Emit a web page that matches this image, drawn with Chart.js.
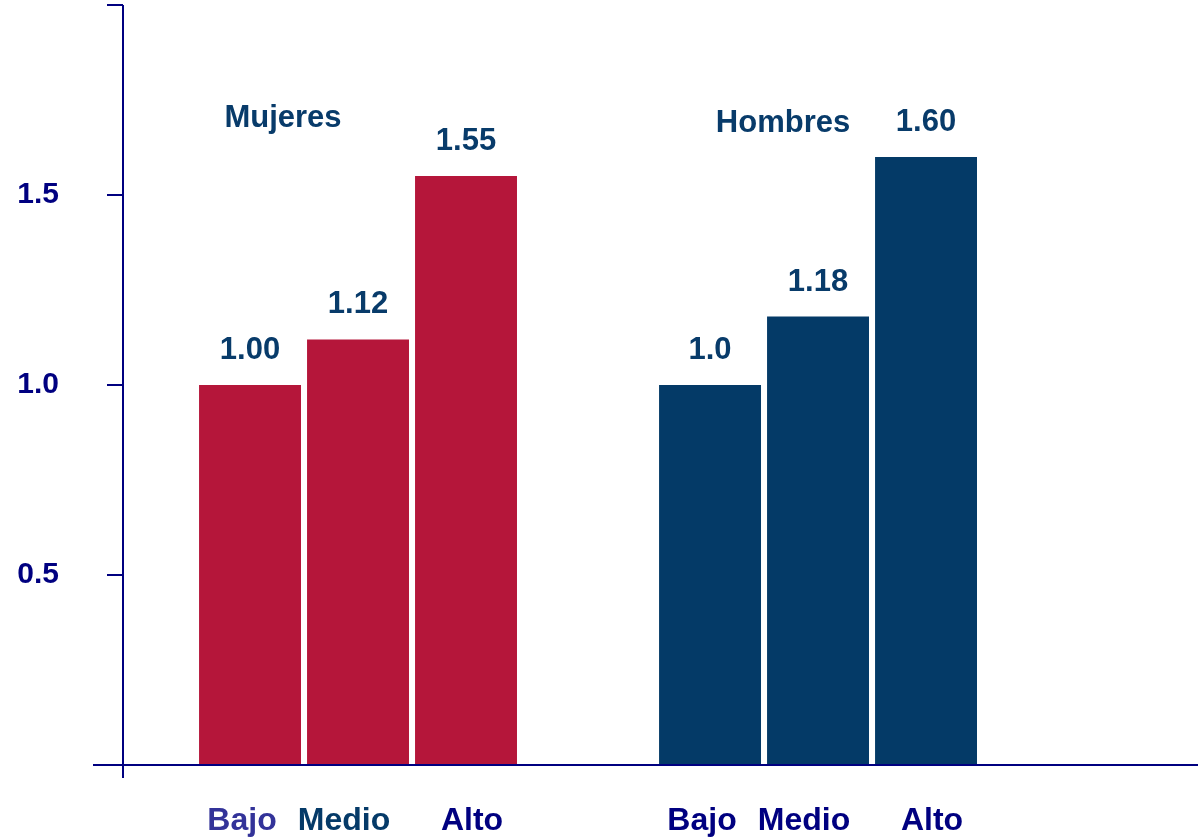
<!DOCTYPE html>
<html lang="es">
<head>
<meta charset="utf-8">
<title>Mujeres y Hombres: Bajo, Medio, Alto</title>
<script src="https://cdn.jsdelivr.net/npm/chart.js@4/dist/chart.umd.min.js"></script>
<style>
  html, body { margin: 0; padding: 0; background: #ffffff; }
  canvas { display: block; }
</style>
</head>
<body>
<canvas id="grafico" width="1198" height="838"></canvas>
<script>
// Datos
const grupos = ['Mujeres', 'Hombres'];
const niveles = ['Bajo', 'Medio', 'Alto'];
const etiquetasMujeres = ['1.00', '1.12', '1.55'];
const etiquetasHombres = ['1.0', '1.18', '1.60'];
const valoresMujeres = etiquetasMujeres.map(parseFloat);
const valoresHombres = etiquetasHombres.map(parseFloat);
const ticksY = [0, 0.5, 1.0, 1.5, 2.0];

// Colores
const rojo = '#b5163a';
const azul = '#043a67';
const azulTexto = '#083b6a';
const marino = '#000080';
const coloresNivel = [
  ['#333399', '#053a68', '#000080'], // Mujeres
  ['#000080', '#000080', '#000080']  // Hombres
];
const fuente = "'Liberation Sans', Arial, sans-serif";
// desplazamiento horizontal de los rótulos de nivel respecto a su barra
const despNivel = [-8, -14, 6];

const datasets = niveles.map((nivel, j) => ({
  label: nivel,
  data: [
    { x: 0, y: valoresMujeres[j] },
    { x: 1, y: valoresHombres[j] }
  ],
  backgroundColor: [rojo, azul],
  borderWidth: 0,
  categoryPercentage: 0.7043,
  barPercentage: 0.944
}));

const etiquetas = [etiquetasMujeres, etiquetasHombres];

// Ejes, cifras sobre las barras y rótulos
const rotulos = {
  id: 'rotulos',
  afterDatasetsDraw(chart) {
    const ctx = chart.ctx;
    const area = chart.chartArea;
    const sx = chart.scales.x;
    const sy = chart.scales.y;
    const y0 = sy.getPixelForValue(0);

    ctx.save();
    // ejes
    ctx.strokeStyle = marino;
    ctx.lineWidth = 2;
    ctx.beginPath();
    ctx.moveTo(area.left - 30, y0);
    ctx.lineTo(chart.width, y0);
    ctx.moveTo(area.left, area.top);
    ctx.lineTo(area.left, y0 + 13);
    ctx.stroke();

    ctx.textAlign = 'center';
    ctx.textBaseline = 'alphabetic';

    chart.data.datasets.forEach((ds, j) => {
      const meta = chart.getDatasetMeta(j);
      meta.data.forEach((barra, g) => {
        // valor encima de la barra
        ctx.font = 'bold 31px ' + fuente;
        ctx.fillStyle = azulTexto;
        ctx.fillText(etiquetas[g][j], barra.x, barra.y - 26);
        // nivel debajo del eje
        ctx.font = 'bold 32px ' + fuente;
        ctx.fillStyle = coloresNivel[g][j];
        ctx.fillText(niveles[j], barra.x + despNivel[j], 830);
      });
    });

    // nombre de cada grupo
    ctx.font = 'bold 31px ' + fuente;
    ctx.fillStyle = azulTexto;
    ctx.fillText(grupos[0], sx.getPixelForValue(0) - 75, 127);
    ctx.fillText(grupos[1], sx.getPixelForValue(1) - 35, 132);
    ctx.restore();
  }
};

new Chart(document.getElementById('grafico'), {
  type: 'bar',
  data: { datasets: datasets },
  options: {
    responsive: false,
    animation: false,
    layout: { padding: { top: 5, right: 0, left: 0, bottom: 0 } },
    plugins: {
      legend: { display: false },
      tooltip: { enabled: false }
    },
    scales: {
      x: {
        type: 'linear',
        min: -0.5109,
        max: 1.826,
        offset: false,
        grid: { display: false },
        border: { display: false },
        ticks: { display: false },
        afterBuildTicks: (s) => { s.ticks = grupos.map((g, i) => ({ value: i })); },
        afterFit: (s) => { s.height = 73; }
      },
      y: {
        min: 0,
        max: 2,
        afterBuildTicks: (s) => { s.ticks = ticksY.map(v => ({ value: v })); },
        ticks: {
          color: marino,
          padding: 48,
          font: { family: fuente, size: 30, weight: 'bold' },
          callback: (v) => (v === 0 || v === 2) ? '' : v.toFixed(1)
        },
        grid: {
          drawOnChartArea: false,
          drawTicks: true,
          tickLength: 16,
          color: marino,
          lineWidth: 2
        },
        border: { display: false },
        afterFit: (s) => {
          s.width = 123;
          s.paddingTop = 0;
          s.paddingBottom = 0;
        }
      }
    }
  },
  plugins: [rotulos]
});
</script>
</body>
</html>
